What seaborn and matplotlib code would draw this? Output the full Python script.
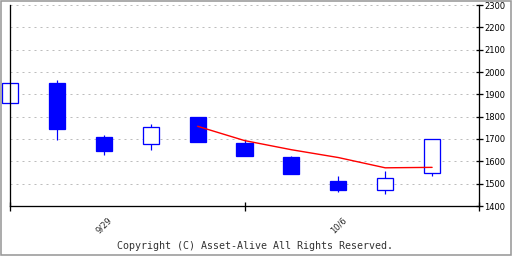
import matplotlib
matplotlib.use("Agg")
import matplotlib.pyplot as plt
from matplotlib.patches import Rectangle
import seaborn as sns
import pandas as pd

# ---- data ----
positions = [0, 1, 2, 3, 4, 5, 6, 7, 8, 9]
opens  = [1861, 1951, 1709, 1676, 1798, 1682, 1619, 1513, 1470, 1546]
closes = [1951, 1747, 1648, 1754, 1688, 1625, 1545, 1473, 1525, 1699]
highs  = [1951, 1964, 1718, 1767, 1798, 1697, 1624, 1536, 1558, 1699]
lows   = [1861, 1695, 1630, 1652, 1688, 1625, 1545, 1463, 1455, 1536]
ma_positions = [4, 5, 6, 7, 8, 9]
ma_values = [1757, 1693, 1652, 1617, 1571, 1573]
date_label_pos = [2, 7]
date_labels = ["9/29", "10/6"]
y_ticks = [1400, 1500, 1600, 1700, 1800, 1900, 2000, 2100, 2200, 2300]
copyright_text = "Copyright (C) Asset-Alive All Rights Reserved."

sns.set_style("white")
plt.rcParams["font.family"] = ["DejaVu Sans"]

DPI = 100
fig = plt.figure(figsize=(5.12, 2.56), dpi=DPI)
px = 72.0 / DPI  # one pixel in points

L, R, T, B = 10, 479, 5, 206
ax = fig.add_axes([L / 512, (256 - B) / 256, (R - L) / 512, (B - T) / 256])

blue = "#0000ff"
df = pd.DataFrame({"pos": positions, "open": opens, "close": closes,
                   "high": highs, "low": lows})
ma_df = pd.DataFrame({"pos": ma_positions, "ma": ma_values})

# wicks
ax.vlines(df["pos"], df["low"], df["high"], color=blue, lw=1.2 * px,
          zorder=2, clip_on=False)
# bodies
width = 0.345
for _, r in df.iterrows():
    up = r["close"] >= r["open"]
    bottom = min(r["open"], r["close"])
    height = abs(r["close"] - r["open"])
    ax.bar(r["pos"], height, bottom=bottom, width=width,
           color="white" if up else blue, edgecolor=blue,
           linewidth=1.3 * px, zorder=3, clip_on=False)

# moving average line
sns.lineplot(data=ma_df, x="pos", y="ma", color="red", lw=1.4 * px,
             ax=ax, zorder=4)

ax.set_xlim(0, 9.98)
ax.set_ylim(1400, 2300)
ax.set_xlabel("")
ax.set_ylabel("")

# grid
ax.set_yticks(y_ticks)
ax.yaxis.grid(True, color="#bdbdbd", linestyle=(0, (2, 4)), lw=1 * px)
ax.xaxis.grid(False)
ax.set_axisbelow(True)

# spines
for s in ["left", "right", "bottom"]:
    ax.spines[s].set_visible(True)
    ax.spines[s].set_color("black")
    ax.spines[s].set_linewidth(1.3 * px)
    ax.spines[s].set_zorder(5)
ax.spines["top"].set_visible(False)

# y ticks right
ax.yaxis.tick_right()
ax.tick_params(axis="y", which="major", direction="inout", length=7 * px,
               width=1.3 * px, color="black", labelsize=6, pad=1.5,
               labelcolor="black", right=True, left=False)

# x ticks
ax.set_xticks([0, 5, 10])
ax.set_xticklabels(["", "", ""])
ax.set_xticks(date_label_pos, minor=True)
ax.set_xticklabels(date_labels, minor=True, rotation=45, ha="center",
                   va="top", fontsize=6)
ax.tick_params(axis="x", which="major", direction="inout", length=9 * px,
               width=1.3 * px, color="black", bottom=True)
ax.tick_params(axis="x", which="minor", length=0, pad=6.5, bottom=True)

# copyright
fig.text(255 / 512, 1 - 246 / 256, copyright_text, ha="center", va="center",
         family="DejaVu Sans Mono", fontsize=7.2, color="#333333")

# grey frame
fig.patches.append(Rectangle((0.001, 0.002), 0.997, 0.995,
                             transform=fig.transFigure, fill=False,
                             edgecolor="#999999", lw=1.6 * px))

fig.savefig("out.png", dpi=DPI)
